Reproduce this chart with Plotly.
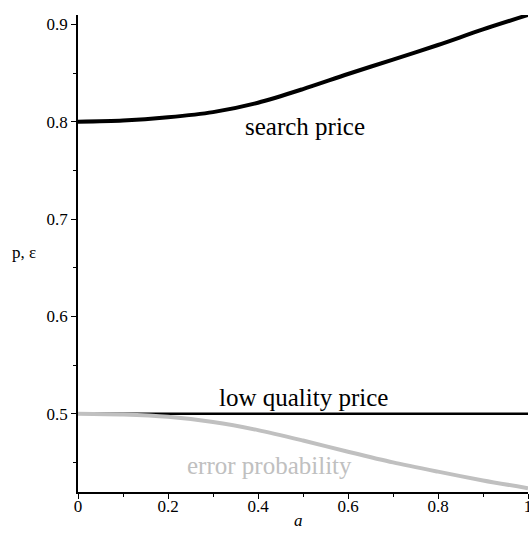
import plotly.graph_objects as go

a_vals = [0.0, 0.1, 0.2, 0.3, 0.4, 0.5, 0.6, 0.7, 0.8, 0.9, 1.0]
search_price = [0.800, 0.8012, 0.8045, 0.8098, 0.8195, 0.8335, 0.8490, 0.8638, 0.8788, 0.8948, 0.9096]
low_quality_price = [0.5] * len(a_vals)
error_probability = [0.500, 0.4992, 0.4968, 0.4915, 0.4832, 0.4725, 0.4610, 0.4500, 0.4405, 0.4315, 0.4235]

x_ticks = [0, 0.2, 0.4, 0.6, 0.8, 1]
x_ticktext = ["0", "0.2", "0.4", "0.6", "0.8", "1"]
y_ticks = [0.5, 0.6, 0.7, 0.8, 0.9]
y_ticktext = ["0.5", "0.6", "0.7", "0.8", "0.9"]

FONT = "'Liberation Serif', 'Times New Roman', serif"

fig = go.Figure()
fig.add_trace(go.Scatter(x=a_vals, y=low_quality_price, mode="lines",
                         line=dict(color="black", width=2.5), hoverinfo="skip"))
fig.add_trace(go.Scatter(x=a_vals, y=search_price, mode="lines",
                         line=dict(color="black", width=4, shape="spline", smoothing=0.8), hoverinfo="skip"))
fig.add_trace(go.Scatter(x=a_vals, y=error_probability, mode="lines",
                         line=dict(color="#c0c0c0", width=4, shape="spline", smoothing=0.8), hoverinfo="skip"))

fig.add_annotation(x=0.505, y=0.795, text="search price", showarrow=False,
                   xref="x", yref="y", font=dict(family=FONT, size=25, color="black"))
fig.add_annotation(x=0.5, y=0.517, text="low quality price", showarrow=False,
                   xref="x", yref="y", font=dict(family=FONT, size=25, color="black"))
fig.add_annotation(x=0.425, y=0.4465, text="error probability", showarrow=False,
                   xref="x", yref="y", font=dict(family=FONT, size=25, color="#c0c0c0"))
# axis labels placed relative to the plot area
fig.add_annotation(x=-0.12, y=0.502, xref="paper", yref="paper", text="p, ε", showarrow=False,
                   xanchor="center", yanchor="middle", font=dict(family=FONT, size=17, color="black"))
fig.add_annotation(x=0.489, y=-0.06, xref="paper", yref="paper", text="<i>a</i>", showarrow=False,
                   xanchor="center", yanchor="middle", font=dict(family=FONT, size=17, color="black"))

fig.update_layout(
    width=529, height=534,
    margin=dict(l=78, r=1, t=15, b=42),
    paper_bgcolor="white", plot_bgcolor="white",
    showlegend=False,
    font=dict(family=FONT, size=17, color="black"),
    xaxis=dict(range=[0, 1], tickvals=x_ticks, ticktext=x_ticktext, automargin=False,
               ticklabeloverflow="allow", ticklabelstandoff=-7,
               showgrid=False, zeroline=False, showline=True, linecolor="black", linewidth=1.5,
               ticks="outside", ticklen=5, tickcolor="black", tickwidth=1,
               minor=dict(ticks="outside", dtick=0.1, ticklen=3, tickcolor="black")),
    yaxis=dict(range=[0.4196, 0.9096], tickvals=y_ticks, ticktext=y_ticktext, automargin=False,
               showgrid=False, zeroline=False, showline=True, linecolor="black", linewidth=1.5,
               ticks="outside", ticklen=5, tickcolor="black", tickwidth=1,
               minor=dict(ticks="outside", dtick=0.05, ticklen=3, tickcolor="black")),
)

fig.write_html("out.html", config={"displayModeBar": False},
               post_script="document.body.style.margin='0';document.body.style.overflow='hidden';")
